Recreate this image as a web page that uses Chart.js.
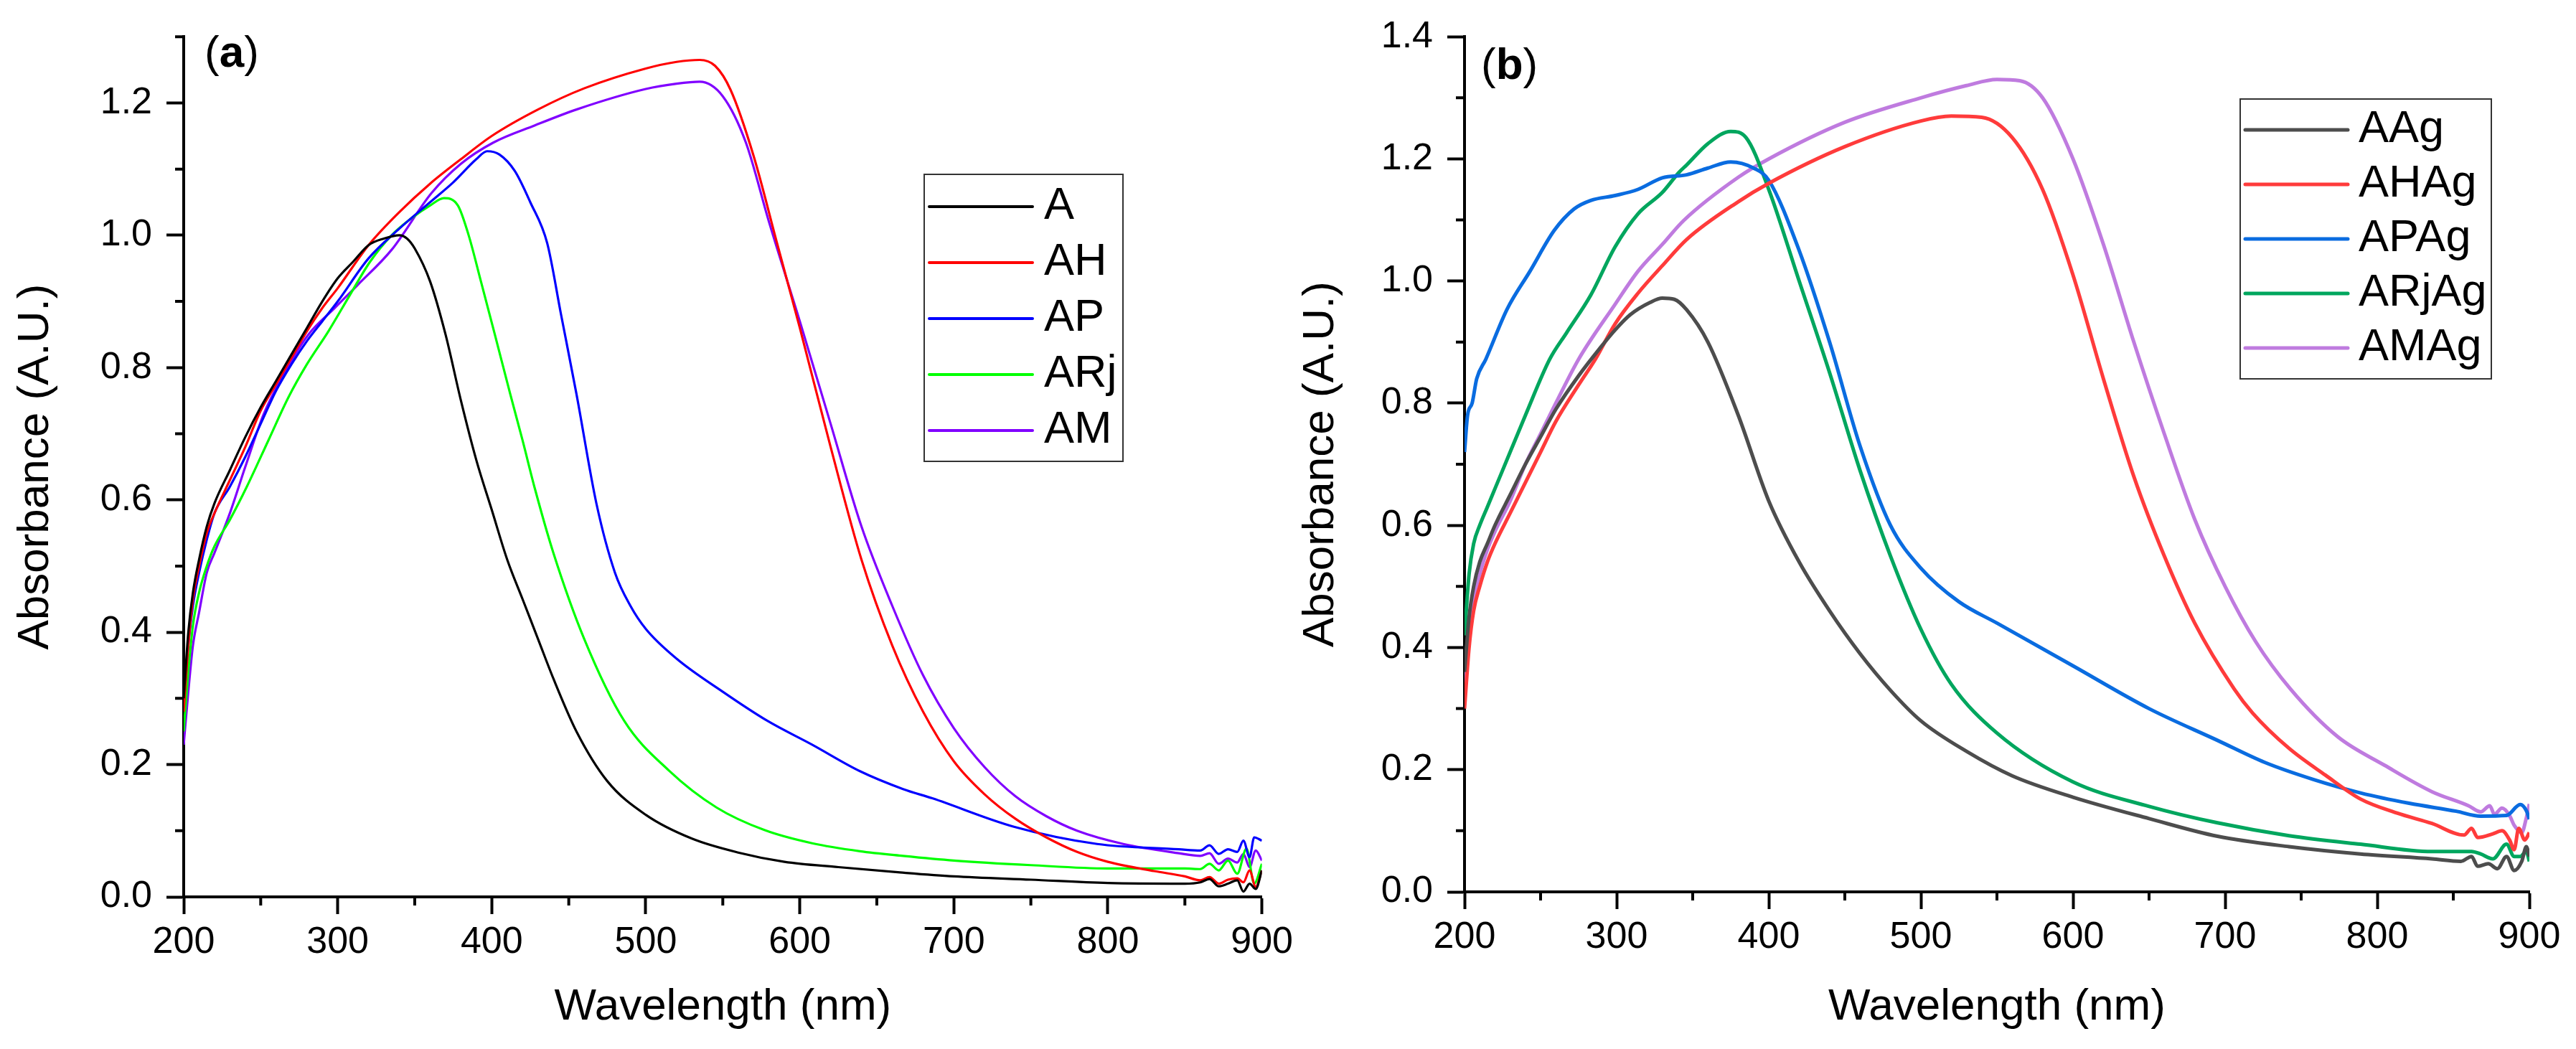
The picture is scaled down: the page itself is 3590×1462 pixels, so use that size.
<!DOCTYPE html>
<html>
<head>
<meta charset="utf-8">
<title>Absorbance spectra (a) and (b)</title>
<script src="https://cdn.jsdelivr.net/npm/chart.js@4.4.1/dist/chart.umd.min.js"></script>
<style>
  html, body { margin: 0; padding: 0; background: #fff; }
  body { width: 3590px; height: 1462px; position: relative; overflow: hidden; }
  canvas { position: absolute; top: 0; }
  #panelA { left: 0; }
  #panelB { left: 1810px; }
</style>
</head>
<body>
<canvas id="panelA" width="1810" height="1462"></canvas>
<canvas id="panelB" width="1780" height="1462"></canvas>
<script>
// ---- panel (a) data: wavelength (nm) / absorbance ----
const labelsA = ['A', 'AH', 'AP', 'ARj', 'AM'];

const wlA  = [200,203,206,210,215,220,230,240,250,260,270,280,290,300,310,320,330,340,345,350,360,370,380,390,400,410,420,430,440,455,475,500,530,560,590,625,665,700,750,800,850,860,866,872,878,884,888,892,896,900];
const absA = [0.30,0.40,0.46,0.51,0.56,0.595,0.645,0.695,0.74,0.78,0.82,0.86,0.90,0.935,0.96,0.985,0.995,1.0,0.995,0.98,0.93,0.85,0.75,0.66,0.585,0.51,0.45,0.39,0.33,0.25,0.175,0.124,0.088,0.067,0.053,0.045,0.037,0.031,0.026,0.021,0.02,0.022,0.027,0.016,0.02,0.025,0.008,0.02,0.012,0.04];

const wlAH  = [200,203,206,210,215,220,230,240,250,260,270,280,290,300,320,340,360,380,400,430,460,500,520,535,545,555,570,585,600,620,640,660,680,700,720,740,760,780,800,830,850,860,866,872,878,884,888,892,896,900];
const absAH = [0.28,0.38,0.45,0.50,0.55,0.58,0.63,0.68,0.735,0.775,0.815,0.855,0.89,0.92,0.985,1.035,1.078,1.115,1.15,1.19,1.222,1.252,1.262,1.265,1.256,1.22,1.12,0.99,0.86,0.68,0.51,0.38,0.28,0.205,0.155,0.118,0.09,0.068,0.053,0.039,0.031,0.025,0.03,0.02,0.026,0.028,0.022,0.04,0.015,0.04];

const wlAP  = [200,203,206,210,215,220,230,240,250,260,270,280,290,300,320,340,360,375,390,397,405,415,425,436,445,455,468,480,490,500,520,550,579,608,639,667,686,739,793,846,860,866,872,878,884,888,892,895,900];
const absAP = [0.29,0.38,0.44,0.49,0.54,0.58,0.62,0.665,0.715,0.765,0.805,0.84,0.87,0.9,0.965,1.01,1.05,1.08,1.115,1.127,1.122,1.097,1.05,0.988,0.88,0.76,0.594,0.49,0.44,0.405,0.36,0.31,0.266,0.23,0.19,0.163,0.149,0.106,0.08,0.072,0.07,0.078,0.065,0.072,0.068,0.085,0.06,0.09,0.085];

const wlARj  = [200,203,206,210,215,220,230,241,255,268,280,294,308,321,335,348,360,369,378,385,393,402,412,420,428,440,460,486,515,546,577,608,639,667,700,750,800,850,860,866,872,878,884,890,895,900];
const absARj = [0.25,0.34,0.41,0.46,0.50,0.53,0.57,0.62,0.69,0.755,0.805,0.855,0.91,0.96,1.0,1.026,1.045,1.056,1.045,1.0,0.93,0.85,0.76,0.69,0.617,0.52,0.39,0.266,0.191,0.135,0.101,0.081,0.069,0.062,0.055,0.048,0.043,0.043,0.042,0.05,0.04,0.055,0.035,0.073,0.02,0.05];

const wlAM  = [200,203,206,210,215,220,230,240,252,265,281,298,313,335,361,380,401,428,455,500,520,535,550,565,580,600,620,640,660,680,700,720,740,760,780,810,846,860,866,872,878,884,888,892,896,900];
const absAM = [0.23,0.31,0.38,0.43,0.49,0.52,0.58,0.65,0.73,0.79,0.85,0.89,0.925,0.978,1.064,1.108,1.14,1.166,1.19,1.221,1.229,1.232,1.21,1.14,1.02,0.87,0.715,0.56,0.44,0.335,0.255,0.196,0.152,0.122,0.1,0.08,0.066,0.062,0.066,0.05,0.058,0.052,0.065,0.045,0.07,0.055];

// ---- panel (b) data ----
const labelsB = ['AAg', 'AHAg', 'APAg', 'ARjAg', 'AMAg'];

const wlAAg  = [200,203,206,210,215,220,230,240,250,260,275,289,299,309,322,330,338,346,360,380,400,420,440,460,480,500,530,560,600,650,695,742,789,836,855,862,866,873,879,885,890,895,898,900];
const absAAg = [0.36,0.45,0.5,0.54,0.57,0.6,0.65,0.7,0.745,0.79,0.845,0.89,0.92,0.945,0.965,0.972,0.97,0.953,0.9,0.78,0.64,0.54,0.46,0.39,0.33,0.28,0.23,0.19,0.155,0.12,0.091,0.074,0.062,0.054,0.05,0.058,0.042,0.046,0.038,0.058,0.035,0.05,0.074,0.058];

const wlAHAg  = [200,203,206,210,215,220,230,240,250,260,275,286,299,314,330,346,380,400,450,500,520,540,560,580,600,620,640,660,680,706,718,742,766,789,813,836,857,862,866,876,882,887,890,893,897,900];
const absAHAg = [0.3,0.4,0.46,0.5,0.54,0.57,0.62,0.67,0.72,0.77,0.83,0.872,0.93,0.98,1.025,1.068,1.13,1.16,1.22,1.262,1.27,1.268,1.235,1.15,1.01,0.84,0.68,0.55,0.44,0.332,0.293,0.235,0.191,0.152,0.129,0.112,0.093,0.104,0.089,0.095,0.1,0.085,0.069,0.104,0.085,0.097];

const wlAPAg  = [200,202,205,208,214,228,243,259,272,283,299,314,330,346,360,375,390,400,420,440,460,480,500,525,550,600,650,695,726,758,789,821,852,868,885,894,898,900];
const absAPAg = [0.72,0.78,0.8,0.84,0.872,0.954,1.016,1.083,1.118,1.132,1.14,1.15,1.169,1.174,1.185,1.195,1.185,1.165,1.05,0.9,0.73,0.6,0.53,0.475,0.44,0.37,0.3,0.248,0.212,0.184,0.162,0.145,0.132,0.124,0.125,0.143,0.133,0.119];

const wlARjAg  = [200,203,206,210,215,220,230,240,256,267,283,299,314,330,341,346,360,375,385,400,420,440,460,480,500,520,550,600,650,695,742,789,836,862,868,876,885,890,894,898,900];
const absARjAg = [0.42,0.52,0.57,0.6,0.63,0.66,0.72,0.78,0.872,0.915,0.977,1.056,1.11,1.145,1.178,1.19,1.225,1.245,1.235,1.15,1.0,0.85,0.69,0.55,0.43,0.34,0.26,0.18,0.14,0.113,0.092,0.078,0.066,0.066,0.062,0.054,0.078,0.058,0.058,0.066,0.05];

const wlAMAg  = [200,203,206,210,215,220,230,240,250,260,275,299,314,330,344,380,400,450,500,530,550,565,580,600,620,640,660,680,700,720,743,774,805,836,860,868,874,877,882,887,890,895,898,900];
const absAMAg = [0.33,0.42,0.48,0.52,0.56,0.59,0.64,0.7,0.75,0.8,0.872,0.962,1.016,1.06,1.099,1.17,1.2,1.26,1.3,1.32,1.33,1.328,1.3,1.2,1.06,0.9,0.75,0.61,0.5,0.41,0.332,0.254,0.207,0.164,0.141,0.131,0.141,0.127,0.137,0.125,0.109,0.097,0.121,0.144];

// axis ranges / ticks
const xRange = [200, 900];
const xStep = 100;
const yRangeA = [0, 1.3];
const yRangeB = [0, 1.4];
const yStep = 0.2;

// ---- styling ----
const FAMILY = "'Liberation Sans', Arial, Helvetica, sans-serif";
Chart.defaults.font.family = FAMILY;
Chart.defaults.color = '#000';

const colorsA = ['#000000', '#ff0000', '#0000ff', '#00ff00', '#8000ff'];
const colorsB = ['#4d4d4d', '#ff3b3b', '#0a6ce0', '#00a65e', '#bf7bdf'];

function toPoints(wl, ab) {
  return wl.map((x, i) => ({ x: x, y: ab[i] }));
}

// minor ticks, framed legend and the (a)/(b) tag
const decor = {
  id: 'decor',
  afterDraw(chart, args, o) {
    const { ctx, chartArea: area } = chart;
    const x = chart.scales.x, y = chart.scales.y;
    ctx.save();

    ctx.strokeStyle = '#000';
    ctx.lineWidth = 4;
    ctx.beginPath();
    const xt = x.ticks.map(t => t.value);
    for (let i = 0; i + 1 < xt.length; i++) {
      const px = x.getPixelForValue((xt[i] + xt[i + 1]) / 2);
      ctx.moveTo(px, area.bottom);
      ctx.lineTo(px, area.bottom + o.minorLength);
    }
    const yt = y.ticks.map(t => t.value);
    const half = (yt[1] - yt[0]) / 2;
    for (let v = yt[0] + half; v <= y.max + 1e-9; v += 2 * half) {
      const py = y.getPixelForValue(v);
      ctx.moveTo(area.left, py);
      ctx.lineTo(area.left - o.minorLength, py);
    }
    ctx.stroke();

    const L = o.legend;
    ctx.lineWidth = 2;
    ctx.strokeStyle = '#333';
    ctx.strokeRect(L.left, L.top, L.width, L.height);
    ctx.font = L.fontSize + 'px ' + FAMILY;
    ctx.textBaseline = 'middle';
    ctx.textAlign = 'left';
    ctx.lineCap = 'round';
    chart.data.datasets.forEach((ds, i) => {
      const yy = L.top + L.firstRow + i * L.rowGap;
      ctx.strokeStyle = ds.borderColor;
      ctx.lineWidth = L.lineWidth;
      ctx.beginPath();
      ctx.moveTo(L.left + L.lineStart, yy);
      ctx.lineTo(L.left + L.lineEnd, yy);
      ctx.stroke();
      ctx.fillStyle = '#000';
      ctx.fillText(ds.label, L.left + L.textStart, yy);
    });

    const P = o.tag;
    ctx.fillStyle = '#000';
    ctx.textBaseline = 'alphabetic';
    let tx = P.x;
    [['(', 'normal'], [P.letter, 'bold'], [')', 'normal']].forEach(([s, w]) => {
      ctx.font = w + ' ' + P.size + 'px ' + FAMILY;
      ctx.fillText(s, tx, P.baseline);
      tx += ctx.measureText(s).width;
    });
    ctx.restore();
  }
};

function makePanel(id, labels, wls, abss, colors, yRange, lineWidth, box) {
  const datasets = labels.map((lab, i) => ({
    label: lab,
    data: toPoints(wls[i], abss[i]),
    borderColor: colors[i],
    backgroundColor: colors[i],
    borderWidth: lineWidth,
    pointRadius: 0,
    fill: false,
    cubicInterpolationMode: 'monotone'
  }));

  return new Chart(document.getElementById(id), {
    type: 'line',
    data: { datasets: datasets },
    plugins: [decor],
    options: {
      responsive: false,
      animation: false,
      devicePixelRatio: 1,
      layout: { padding: box.padding },
      plugins: {
        legend: { display: false },
        tooltip: { enabled: false },
        decor: {
          minorLength: 12,
          legend: box.legend,
          tag: box.tag
        }
      },
      scales: {
        x: {
          type: 'linear',
          min: xRange[0],
          max: xRange[1],
          ticks: { stepSize: xStep, font: { size: 52 }, color: '#000', padding: 8, maxRotation: 0 },
          grid: { drawOnChartArea: false, drawTicks: true, tickLength: 24, tickWidth: 4, tickColor: '#000' },
          border: { display: true, color: '#000', width: 4 },
          title: { display: true, text: 'Wavelength (nm)', color: '#000',
                   font: { size: 62, lineHeight: 1 }, padding: { top: 0, bottom: 27 } },
          afterFit: s => { s.height = box.xHeight; }
        },
        y: {
          min: yRange[0],
          max: yRange[1],
          ticks: { stepSize: yStep, includeBounds: false, font: { size: 52 }, color: '#000', padding: 20,
                   callback: v => v.toFixed(1) },
          grid: { drawOnChartArea: false, drawTicks: true, tickLength: 24, tickWidth: 4, tickColor: '#000' },
          border: { display: true, color: '#000', width: 4 },
          title: { display: true, text: 'Absorbance (A.U.)', color: '#000',
                   font: { size: 62, lineHeight: 1 }, padding: { top: box.yTitlePad, bottom: 0 } },
          afterFit: s => { s.width = box.yWidth; }
        }
      }
    }
  });
}

makePanel('panelA', labelsA,
  [wlA, wlAH, wlAP, wlARj, wlAM],
  [absA, absAH, absAP, absARj, absAM],
  colorsA, yRangeA, 3.2, {
    padding: { left: 0, top: 30, right: 49, bottom: 0 },
    xHeight: 212, yWidth: 256, yTitlePad: 19,
    legend: { left: 1288, top: 243, width: 277, height: 400, firstRow: 45, rowGap: 78,
              lineStart: 7, lineEnd: 151, textStart: 167, lineWidth: 4, fontSize: 63 },
    tag: { letter: 'a', x: 285, baseline: 93, size: 62 }
  });

makePanel('panelB', labelsB,
  [wlAAg, wlAHAg, wlAPAg, wlARjAg, wlAMAg],
  [absAAg, absAHAg, absAPAg, absARjAg, absAMAg],
  colorsB, yRangeB, 5, {
    padding: { left: 0, top: 50, right: 65, bottom: 0 },
    xHeight: 219, yWidth: 231, yTitlePad: 0,
    legend: { left: 1312, top: 138, width: 350, height: 390, firstRow: 43, rowGap: 76,
              lineStart: 7, lineEnd: 150, textStart: 165, lineWidth: 5, fontSize: 63 },
    tag: { letter: 'b', x: 254, baseline: 110, size: 62 }
  });
</script>
</body>
</html>
